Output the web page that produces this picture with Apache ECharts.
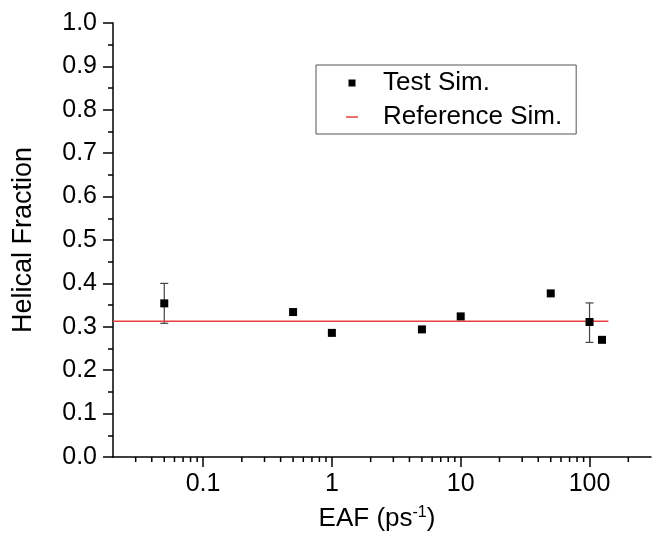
<!DOCTYPE html>
<html>
<head>
<meta charset="utf-8">
<script src="https://cdn.jsdelivr.net/npm/echarts@6/dist/echarts.min.js"></script>
<style>html,body{margin:0;padding:0;background:#fff;}#c{width:652px;height:544px;}</style>
</head>
<body>
<div id="c"></div>
<script>
// Data
const eafValues = [0.05, 0.5, 1, 5, 10, 50, 100, 125];
const helicalFraction = [0.354, 0.334, 0.286, 0.294, 0.324, 0.377, 0.311, 0.270];
const errorX = [0.05, 100];
const errorLow = [0.308, 0.264];
const errorHigh = [0.400, 0.355];
const referenceValue = 0.313;
const referenceSpan = [0.02, 140];
const xMinorTicks = [0.03,0.04,0.05,0.06,0.07,0.08,0.09,0.2,0.3,0.4,0.5,0.6,0.7,0.8,0.9,2,3,4,5,6,7,8,9,20,30,40,50,60,70,80,90,200];
const xRange = [0.02, 300];
const yRange = [0, 1];

const FONT = 'Liberation Sans, Arial, sans-serif';
const chart = echarts.init(document.getElementById('c'), null, {renderer: 'canvas'});

const option = {
  animation: false,
  backgroundColor: '#fff',
  textStyle: {fontFamily: FONT},
  grid: {left: 113, right: 1, top: 23, bottom: 87, containLabel: false},
  legend: {
    orient: 'vertical',
    left: 316, top: 65,
    padding: [5, 14, 4, 30],
    itemWidth: 12, itemHeight: 7,
    itemGap: 8,
    borderColor: '#555', borderWidth: 1,
    textStyle: {fontSize: 26, color: '#000', fontFamily: FONT, padding: [0, 0, 0, 20], lineHeight: 26},
    data: [
      {name: 'Test Sim.', icon: 'path://M0,0h1v1h-1z'},
      {name: 'Reference Sim.', icon: 'path://M0,0h12v1.5h-12z'}
    ]
  },
  xAxis: {
    type: 'log',
    logBase: 10,
    min: xRange[0], max: xRange[1],
    name: 'EAF (ps{sup|-1})',
    nameLocation: 'middle',
    nameGap: 48,
    nameTextStyle: {fontSize: 26, color: '#000', fontFamily: FONT, padding: [0, 10, 0, 0],
      rich: {sup: {fontSize: 16, verticalAlign: 'top', padding: [0, 0, 12, 0], color: '#000', fontFamily: FONT}}},
    axisLine: {show: true, onZero: false, lineStyle: {color: '#000', width: 1.5}},
    axisTick: {show: true, inside: false, length: 10, lineStyle: {color: '#000', width: 1.5}},
    axisLabel: {show: true, margin: 15, fontSize: 25, color: '#000', fontFamily: FONT,
      showMinLabel: false, showMaxLabel: false},
    splitLine: {show: false},
    minorTick: {show: false}
  },
  yAxis: {
    type: 'value',
    min: yRange[0], max: yRange[1], interval: 0.1,
    name: 'Helical Fraction',
    nameLocation: 'middle',
    nameGap: 76,
    nameTextStyle: {fontSize: 27, color: '#000', fontFamily: FONT},
    axisLine: {show: true, onZero: false, lineStyle: {color: '#000', width: 1.5}},
    axisTick: {show: true, inside: false, length: 10, lineStyle: {color: '#000', width: 1.5}},
    minorTick: {show: true, splitNumber: 2, length: 5, lineStyle: {color: '#000', width: 1.5}},
    axisLabel: {margin: 16, fontSize: 25, color: '#000', fontFamily: FONT,
      formatter: v => v.toFixed(1)},
    splitLine: {show: false},
    minorSplitLine: {show: false}
  },
  series: [
    {
      type: 'custom',
      name: 'minorTicks',
      silent: true,
      clip: false,
      data: xMinorTicks.map(v => [v, yRange[0]]),
      renderItem: function (params, api) {
        const p = api.coord([api.value(0), api.value(1)]);
        return {type: 'line', shape: {x1: p[0], y1: p[1], x2: p[0], y2: p[1] + 5},
          style: {stroke: '#000', lineWidth: 1.5}};
      },
      z: 1
    },
    {
      type: 'custom',
      name: 'errorBars',
      silent: true,
      data: errorX.map((x, i) => [x, errorLow[i], errorHigh[i]]),
      renderItem: function (params, api) {
        const lo = api.coord([api.value(0), api.value(1)]);
        const hi = api.coord([api.value(0), api.value(2)]);
        const w = 4;
        const st = {stroke: '#444', lineWidth: 1.2};
        return {type: 'group', children: [
          {type: 'line', shape: {x1: lo[0], y1: lo[1], x2: hi[0], y2: hi[1]}, style: st},
          {type: 'line', shape: {x1: lo[0] - w, y1: lo[1], x2: lo[0] + w, y2: lo[1]}, style: st},
          {type: 'line', shape: {x1: hi[0] - w, y1: hi[1], x2: hi[0] + w, y2: hi[1]}, style: st}
        ]};
      },
      z: 2
    },
    {
      type: 'line',
      name: 'Reference Sim.',
      data: referenceSpan.map(x => [x, referenceValue]),
      showSymbol: false,
      symbol: 'none',
      lineStyle: {color: '#e8403c', width: 1.5},
      itemStyle: {color: '#e8403c'},
      z: 3
    },
    {
      type: 'scatter',
      name: 'Test Sim.',
      data: eafValues.map((x, i) => [x, helicalFraction[i]]),
      symbol: 'rect',
      symbolSize: 8,
      itemStyle: {color: '#000', opacity: 1},
      z: 4
    }
  ]
};
chart.setOption(option);
</script>
</body>
</html>
